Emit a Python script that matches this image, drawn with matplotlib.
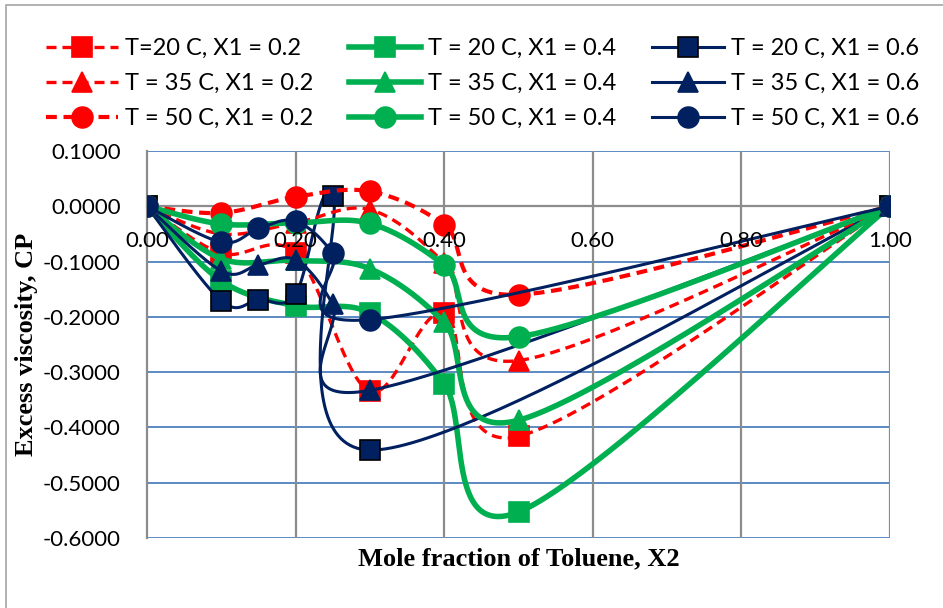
import numpy as np
import matplotlib
matplotlib.use("Agg")
import matplotlib.pyplot as plt
from matplotlib.lines import Line2D
from matplotlib.patches import Rectangle

# ---- data: excess viscosity (cP) vs mole fraction of toluene ----
x_a = [0.0, 0.1, 0.2, 0.3, 0.4, 0.5, 1.0]               # X1 = 0.2 and X1 = 0.4
x_b = [0.0, 0.1, 0.15, 0.2, 0.25, 0.3, 1.0]             # X1 = 0.6

t20_x02 = [0.0, -0.085, -0.085, -0.335, -0.193, -0.416, 0.0]
t35_x02 = [0.0, -0.050, -0.030, -0.006, -0.103, -0.279, 0.0]
t50_x02 = [0.0, -0.012, 0.017, 0.027, -0.033, -0.160, 0.0]

t20_x04 = [0.0, -0.135, -0.180, -0.193, -0.321, -0.553, 0.0]
t35_x04 = [0.0, -0.095, -0.098, -0.113, -0.210, -0.387, 0.0]
t50_x04 = [0.0, -0.032, -0.030, -0.031, -0.106, -0.236, 0.0]

t20_x06 = [0.0, -0.171, -0.169, -0.159, 0.019, -0.441, 0.0]
t35_x06 = [0.0, -0.117, -0.106, -0.097, -0.177, -0.333, 0.0]
t50_x06 = [0.0, -0.065, -0.040, -0.027, -0.085, -0.205, 0.0]

labels = ["T=20 C, X1 = 0.2", "T = 20 C, X1 = 0.4", "T = 20 C, X1 = 0.6",
          "T = 35 C, X1 = 0.2", "T = 35 C, X1 = 0.4", "T = 35 C, X1 = 0.6",
          "T = 50 C, X1 = 0.2", "T = 50 C, X1 = 0.4", "T = 50 C, X1 = 0.6"]

x_ticks = [0.0, 0.2, 0.4, 0.6, 0.8, 1.0]
y_ticks = [0.1, 0.0, -0.1, -0.2, -0.3, -0.4, -0.5, -0.6]

RED, GREEN, NAVY = "#FF0000", "#00B050", "#002060"
TICK_FONT = "Lato"
LABEL_FONT = "Liberation Serif"

W, H = 943, 608
fig = plt.figure(figsize=(W / 100, H / 100), dpi=100)
ax = fig.add_axes([147 / W, 1 - 538 / H, (890 - 147) / W, (538 - 151) / H])
ax.set_xlim(0, 1)
ax.set_ylim(-0.6, 0.1)

# outer chart frame
fig.patches.append(Rectangle((6 / W, -0.01), 1.0, 1 - 5 / H + 0.01,
                             transform=fig.transFigure, fill=False,
                             edgecolor="#A6A6A6", linewidth=1.2))

# grid
for yv in y_ticks:
    if abs(yv) > 1e-9:
        ax.axhline(yv, color="#4F81BD", lw=1.3, zorder=0.5)
for xv in x_ticks[1:]:
    ax.axvline(xv, color="#8C8C8C", lw=1.6, zorder=0.5)

for s in ["top", "right"]:
    ax.spines[s].set_visible(False)
ax.spines["left"].set_color("#8C8C8C")
ax.spines["left"].set_linewidth(1.6)
ax.spines["left"].set_zorder(0.6)
ax.spines["bottom"].set_position(("data", 0.0))
ax.spines["bottom"].set_color("#8C8C8C")
ax.spines["bottom"].set_linewidth(1.6)
ax.spines["bottom"].set_zorder(0.6)

ax.set_xticks(x_ticks)
ax.set_xticklabels([f"{v:.2f}" for v in x_ticks])
ax.set_yticks(y_ticks)
ax.set_yticklabels([f"{v:.4f}" for v in y_ticks])
ax.tick_params(axis="both", length=0, labelsize=16)
ax.tick_params(axis="x", pad=18)
ax.tick_params(axis="y", pad=19)
for lab in ax.get_xticklabels() + ax.get_yticklabels():
    lab.set_fontfamily(TICK_FONT)
ax.xaxis.set_zorder(5)


def smooth(xs, ys, n=60):
    """Bezier smoothing (Catmull-Rom style) computed in display space."""
    P = ax.transData.transform(np.column_stack([xs, ys]))
    ext = np.vstack([P[0], P, P[-1]])
    out = []
    t = np.linspace(0, 1, n)[:, None]
    for i in range(len(P) - 1):
        p0, p1, p2, p3 = ext[i], ext[i + 1], ext[i + 2], ext[i + 3]
        c1 = p1 + (p2 - p0) / 6.0
        c2 = p2 - (p3 - p1) / 6.0
        seg = ((1 - t) ** 3) * p1 + 3 * ((1 - t) ** 2) * t * c1 \
            + 3 * (1 - t) * (t ** 2) * c2 + (t ** 3) * p2
        out.append(seg if i == 0 else seg[1:])
    pts = ax.transData.inverted().transform(np.vstack(out))
    return pts[:, 0], pts[:, 1]


series = [
    (x_a, t20_x02, RED, (0, (3.0, 1.8)), 2.4, "s", 14, RED),
    (x_a, t20_x04, GREEN, "-", 4.0, "s", 14, GREEN),
    (x_b, t20_x06, NAVY, "-", 2.2, "s", 14, "black"),
    (x_a, t35_x02, RED, (0, (3.0, 1.8)), 2.4, "^", 15, RED),
    (x_a, t35_x04, GREEN, "-", 4.0, "^", 15, GREEN),
    (x_b, t35_x06, NAVY, "-", 2.2, "^", 15, NAVY),
    (x_a, t50_x02, RED, (0, (2.6, 1.6)), 3.0, "o", 15, RED),
    (x_a, t50_x04, GREEN, "-", 4.0, "o", 15, GREEN),
    (x_b, t50_x06, NAVY, "-", 2.2, "o", 15, NAVY),
]

handles = []
for i, (xs, ys, col, ls, lw, mk, ms, mec) in enumerate(series):
    z = 2 + i * 0.02
    sx, sy = smooth(xs, ys)
    ax.plot(sx, sy, color=col, ls=ls, lw=lw, solid_capstyle="butt",
            dash_capstyle="butt", zorder=z)
    ax.plot(xs, ys, ls="none", marker=mk, ms=ms, color=col, mec=mec,
            mew=1.2, zorder=z + 0.01)
    handles.append(Line2D([], [], color=col, ls=ls, lw=lw, marker=mk,
                          ms=ms, mec=mec, mew=1.2, markevery=[1],
                          dash_capstyle="butt"))

# legend laid out row by row (matplotlib fills columns first)
order = [0, 3, 6, 1, 4, 7, 2, 5, 8]
leg = fig.legend([handles[k] for k in order], [labels[k] for k in order],
                 ncol=3, loc="upper left",
                 bbox_to_anchor=(46 / W, 1 - 38 / H), frameon=False,
                 prop={"family": TICK_FONT, "size": 17},
                 handlelength=3.05, handletextpad=0.3, columnspacing=1.5,
                 labelspacing=0.6, borderpad=0.0, borderaxespad=0.0)

ax.set_xlabel("Mole fraction of Toluene, X2", fontfamily=LABEL_FONT,
              fontweight="bold", fontsize=19)
ax.set_ylabel("Excess viscosity, CP", fontfamily=LABEL_FONT,
              fontweight="bold", fontsize=19)
ax.xaxis.set_label_coords(0.5, -0.025)
ax.yaxis.set_label_coords(-0.147, 0.5)

fig.savefig("out.png", dpi=100)
